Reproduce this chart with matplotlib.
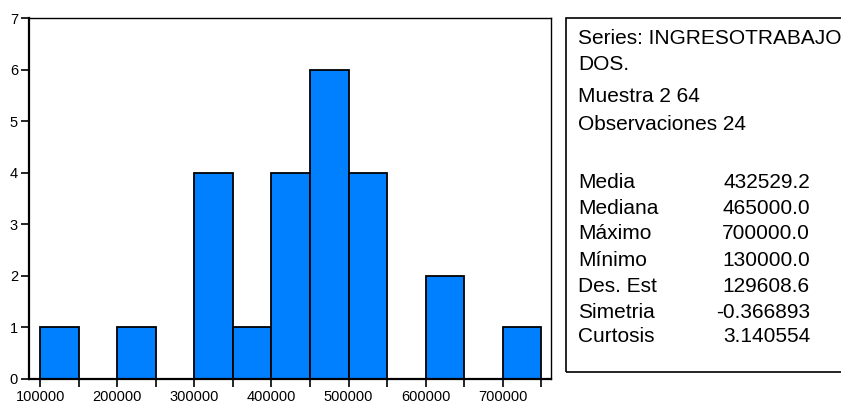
import numpy as np
import matplotlib
matplotlib.use("Agg")
import matplotlib.pyplot as plt
from matplotlib.patches import Rectangle

plt.rcParams['font.family'] = ['Liberation Sans', 'DejaVu Sans']

# histogram bins (left edge) and counts
bin_left = [100000, 150000, 200000, 250000, 300000, 350000, 400000,
            450000, 500000, 550000, 600000, 650000, 700000]
counts = [1, 0, 1, 0, 4, 1, 4, 6, 4, 0, 2, 0, 1]
bin_width = 50000

x_ticks = [100000, 200000, 300000, 400000, 500000, 600000, 700000]
y_ticks = [0, 1, 2, 3, 4, 5, 6, 7]

# summary statistics box
header_lines = ["Series: INGRESOTRABAJO", "DOS.", "Muestra 2 64", "Observaciones 24"]
stat_names = ["Media", "Mediana", "Máximo", "Mínimo", "Des. Est", "Simetria", "Curtosis"]
stat_values = ["432529.2", "465000.0", "700000.0", "130000.0", "129608.6", "-0.366893", "3.140554"]

W, H = 841, 405
fig = plt.figure(figsize=(W / 100, H / 100), dpi=100)

# histogram axes (pixel layout)
ax = fig.add_axes([29 / W, (H - 379) / H, 522 / W, 361 / H])
ax.bar(bin_left, counts, width=bin_width, align='edge',
       color='#0080ff', edgecolor='black', linewidth=1.3)
ax.set_xlim(85500, 762500)
ax.set_ylim(0, 7)
ax.set_xticks(x_ticks)
ax.set_xticklabels([str(v) for v in x_ticks])
ax.set_xticks([v + 50000 for v in x_ticks], minor=True)
ax.set_yticks(y_ticks)
ax.tick_params(axis='both', direction='out', labelsize=10.5, width=1.2, length=6, pad=2)
ax.tick_params(axis='x', which='minor', direction='out', width=1.2, length=6)
for side in ['left', 'bottom']:
    ax.spines[side].set_linewidth(1.6)
for side in ['top', 'right']:
    ax.spines[side].set_linewidth(1.0)

# stats box
box = Rectangle((566 / W, (H - 372) / H), 300 / W, 354 / H, transform=fig.transFigure,
                fill=False, edgecolor='black', linewidth=1.2, clip_on=False)
fig.add_artist(box)

fs = 15
header_y = [39, 65, 97, 125]
for txt, yy in zip(header_lines, header_y):
    fig.text(578 / W, 1 - yy / H, txt, fontsize=fs, va='center', ha='left')

stat_y = [182, 208, 234, 260, 286, 312, 337]
for name, val, yy in zip(stat_names, stat_values, stat_y):
    fig.text(578 / W, 1 - yy / H, name, fontsize=fs, va='center', ha='left')
    fig.text(810 / W, 1 - yy / H, val, fontsize=fs, va='center', ha='right')

fig.savefig("out.png", dpi=100)
